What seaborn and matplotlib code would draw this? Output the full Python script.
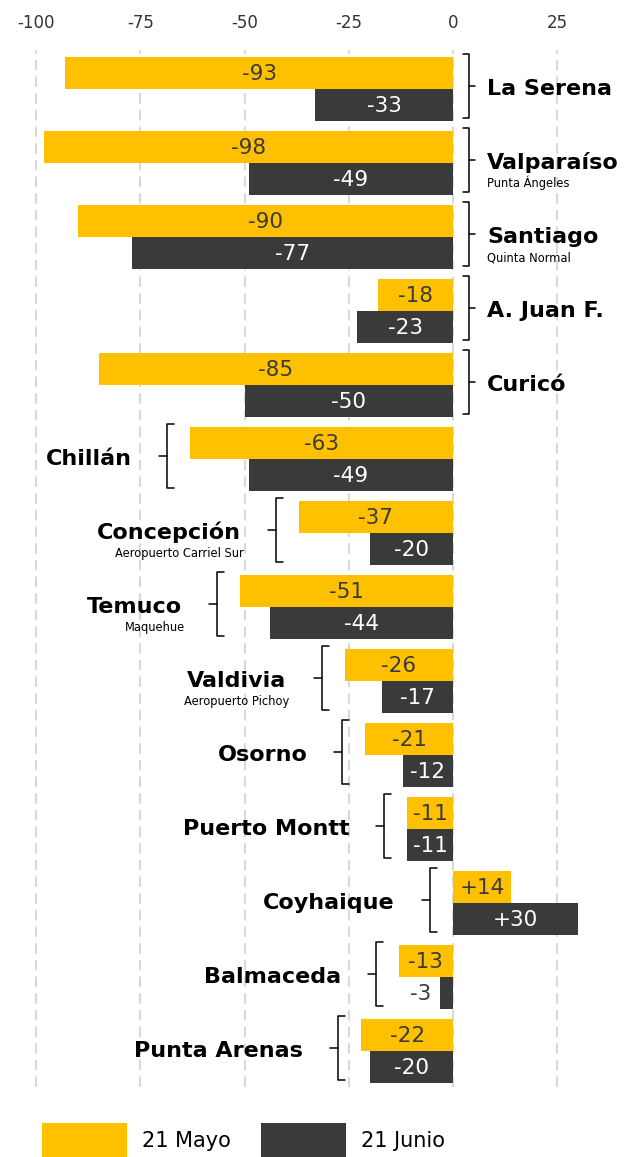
import matplotlib
matplotlib.use("Agg")
import matplotlib.pyplot as plt
import seaborn as sns
import pandas as pd
from matplotlib.patches import Patch

# ---------------- data ----------------
cities = ["La Serena", "Valparaíso", "Santiago", "A. Juan F.", "Curicó",
          "Chillán", "Concepción", "Temuco", "Valdivia", "Osorno",
          "Puerto Montt", "Coyhaique", "Balmaceda", "Punta Arenas"]
stations = ["", "Punta Ángeles", "Quinta Normal", "", "", "",
            "Aeropuerto Carriel Sur", "Maquehue", "Aeropuerto Pichoy",
            "", "", "", "", ""]
mayo = [-93, -98, -90, -18, -85, -63, -37, -51, -26, -21, -11, 14, -13, -22]
junio = [-33, -49, -77, -23, -50, -49, -20, -44, -17, -12, -11, 30, -3, -20]
series = ["21 Mayo", "21 Junio"]
xticks = [-100, -75, -50, -25, 0, 25]
labels_on_right = ["La Serena", "Valparaíso", "Santiago", "A. Juan F.", "Curicó"]

# ---------------- style ----------------
YELLOW = "#FFC000"
DARK = "#3A3A3A"
sns.set_theme(style="white")
plt.rcParams["font.family"] = ["DejaVu Sans"]
plt.rcParams["axes.unicode_minus"] = False

df = pd.DataFrame({
    "city": cities * 2,
    "value": mayo + junio,
    "fecha": [series[0]] * len(cities) + [series[1]] * len(cities),
})

fig = plt.figure(figsize=(6.28, 11.57), dpi=100)
W, H = 628, 1157
ax = fig.add_axes([0, 1 - 1087 / H, 1, (1087 - 50) / H])

sns.barplot(data=df, x="value", y="city", hue="fecha", hue_order=series,
            order=cities, palette=[YELLOW, DARK], orient="h", width=0.865,
            saturation=1, errorbar=None, legend=False, linewidth=0, ax=ax)

PX = 4.17  # pixels per data unit
xmin = -100 - 36 / PX
xmax = xmin + W / PX
ax.set_xlim(xmin, xmax)
ax.set_ylim(13.486, -0.527)
ax.set_xticks(xticks)
ax.set_xticklabels([str(t) for t in xticks])
ax.xaxis.tick_top()
ax.tick_params(axis="x", length=0, pad=13, labelsize=12, labelcolor="#333333")
ax.set_yticks([])
ax.set_xlabel("")
ax.set_ylabel("")
for s in ax.spines.values():
    s.set_visible(False)
ax.set_axisbelow(True)
ax.grid(axis="x", color="#d9d9d9", linewidth=1.5, linestyle=(0, (5, 3)))
ax.grid(axis="y", visible=False)

# ---------------- value labels ----------------
for ci, cont in enumerate(ax.containers):
    for bar, v in zip(cont.patches, [mayo, junio][ci]):
        yc = bar.get_y() + bar.get_height() / 2
        txt = f"+{v}" if v > 0 else f"{v}"
        if abs(v) < 6:
            x = min(bar.get_x(), bar.get_x() + bar.get_width()) - 9 / PX
            ax.text(x, yc + 0.1, txt, ha="right", va="baseline",
                    fontsize=15.5, color=DARK)
        else:
            x = bar.get_x() + bar.get_width() / 2
            ax.text(x, yc + 0.1, txt, ha="center", va="baseline",
                    fontsize=15.5, color=DARK if ci == 0 else "white")


# ---------------- braces & city labels ----------------
def brace(x_hook, x_vert, x_tick, y0, y1):
    ym = (y0 + y1) / 2
    ax.plot([x_hook, x_vert, x_vert, x_hook], [y0, y0, y1, y1],
            color="black", lw=1.1, clip_on=False, solid_joinstyle="round")
    ax.plot([x_vert, x_tick], [ym, ym], color="black", lw=1.1, clip_on=False)


for i, (c, st) in enumerate(zip(cities, stations)):
    y0, y1 = i - 0.47, i + 0.39
    if c in labels_on_right:
        ref = max(0, mayo[i], junio[i])
        brace(ref + 10 / PX, ref + 16 / PX, ref + 22 / PX, y0, y1)
        xt, ha, xs = ref + 34 / PX, "left", ref + 34 / PX
    else:
        ref = min(0, mayo[i], junio[i])
        brace(ref - 16 / PX, ref - 23 / PX, ref - 31 / PX, y0, y1)
        xt, ha, xs = ref - 58 / PX, "right", ref - 55 / PX
    ax.text(xt, i + 0.075, c, ha=ha, va="baseline", fontsize=16,
            fontweight="bold", color="black")
    if st:
        ax.text(xs, i + 0.33, st, ha=ha, va="baseline", fontsize=8.3,
                color="black")

# ---------------- legend ----------------
handles = [Patch(facecolor=YELLOW, edgecolor="none"),
           Patch(facecolor=DARK, edgecolor="none")]
leg = fig.legend(handles, series, loc="center left",
                 bbox_to_anchor=(42 / W, 1 - 1140 / H),
                 bbox_transform=fig.transFigure,
                 ncol=2, frameon=False, fontsize=15, handlelength=4.08,
                 handleheight=2.14, handletextpad=0.72, columnspacing=1.45,
                 borderpad=0, borderaxespad=0)
for t in leg.get_texts():
    t.set_color("black")

fig.savefig("out.png", dpi=100)
